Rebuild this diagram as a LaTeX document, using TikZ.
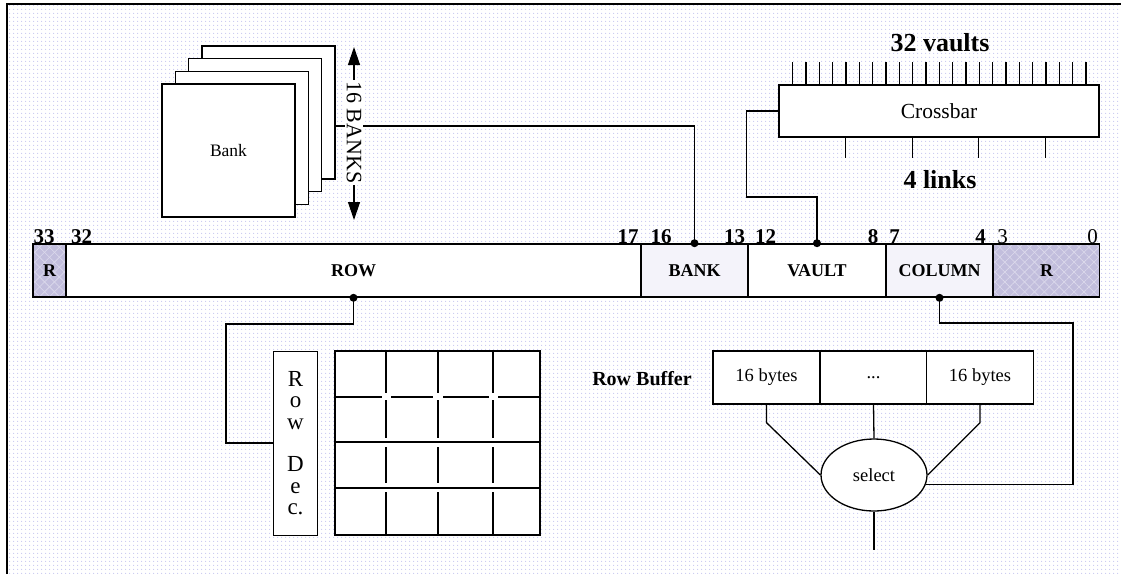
\documentclass[tikz,border=0pt]{standalone}
\usepackage{fontspec}
\setmainfont{Liberation Serif}
\usetikzlibrary{arrows.meta,shapes.geometric,patterns.meta,calc}
\definecolor{rcol}{RGB}{194,190,221}
\definecolor{lcol}{RGB}{244,243,250}
\definecolor{dotcol}{RGB}{200,200,240}
\pgfdeclarepattern{name=bgdots,type=uncolored,bottom left={\pgfpoint{0pt}{0pt}},top right={\pgfpoint{4pt}{4pt}},tile size={\pgfpoint{4pt}{4pt}},code={\pgfpathcircle{\pgfpoint{2pt}{2pt}}{0.75pt}\pgfusepath{fill}}}
\tikzset{
  ln/.style={line width=1.3pt},
  field/.style={draw, line width=1.6pt, minimum height=53pt, inner sep=0pt, font=\fontsize{18}{20}\selectfont\bfseries},
  rfield/.style={field, preaction={fill=rcol},
     preaction={pattern={Lines[angle=45,distance=7pt,line width=0.6pt]}, pattern color=white!45!rcol},
     preaction={pattern={Lines[angle=-45,distance=7pt,line width=0.6pt]}, pattern color=white!45!rcol}},
  bitnum/.style={font=\fontsize{21}{21}\selectfont\bfseries, inner sep=0pt, anchor=base},
  bitnumr/.style={font=\fontsize{21}{21}\selectfont, inner sep=0pt, anchor=base},
  banksq/.style={draw, fill=white, line width=1.3pt, minimum width=133pt, minimum height=133pt, inner sep=0pt, font=\fontsize{17.5}{20}\selectfont},
  cell/.style={draw, fill=white, line width=1.3pt, minimum width=107pt, minimum height=53pt, inner sep=0pt, font=\fontsize{18.5}{20}\selectfont},
  bigbold/.style={font=\fontsize{26}{28}\selectfont\bfseries, inner sep=0pt},
  dotend/.style={fill=black},
}
\begin{document}
\begin{tikzpicture}[x=1pt,y=-1pt]
\useasboundingbox (0,0) rectangle (1121,574);
% background
\fill[pattern=bgdots, pattern color=dotcol] (7,4) rectangle (1121,574);
\draw[ln] (7,574) -- (7,4) -- (1121,4);

% bank stack
\node[banksq] (bank4) at (268.5,112.5) {};
\node[banksq] (bank3) at (255.2,125.2) {};
\node[banksq] (bank2) at (241.8,137.8) {};
\node[banksq] (bank1) at (228.5,150.5) {Bank};

% register fields
\node[rfield, minimum width=33pt] (fr1) at (49.5,270.5) {R};
\node[field, fill=white, minimum width=575pt] (frow) at (353.5,270.5) {ROW};
\node[field, fill=lcol, minimum width=107pt] (fbank) at (694.5,270.5) {BANK};
\node[field, fill=white, minimum width=138pt] (fvault) at (817,270.5) {VAULT};
\node[field, fill=lcol, minimum width=107pt] (fcol) at (939.5,270.5) {COLUMN};
\node[rfield, minimum width=106pt] (fr2) at (1046.5,270.5) {R};

% bit numbers
\node[bitnum] (b33) at (44,243) {33};
\node[bitnum] (b32) at (81.5,243) {32};
\node[bitnum] (b17) at (628,243) {17};
\node[bitnum] (b16) at (661,243) {16};
\node[bitnum] (b13) at (734.5,243) {13};
\node[bitnum] (b12) at (765.5,243) {12};
\node[bitnum] (b8) at (873,243) {8};
\node[bitnum] (b7) at (894.5,243) {7};
\node[bitnum] (b4) at (980.5,243) {4};
\node[bitnumr] (b3) at (1002.5,243) {3};
\node[bitnumr] (b0) at (1092.5,243) {0};

% bank connector
\draw[ln] (bank4.east) ++(0,13.5) -| (fbank.north);
\fill[dotend] (fbank.north) circle (4pt);

% 16 banks arrow
\coordinate (atop) at (354,47);
\coordinate (abot) at (354,220);
\draw[line width=1.3pt, {Triangle[length=18pt,width=12pt]}-{Triangle[length=18pt,width=12pt]}] (atop) -- (abot);
\node[fill=white, inner sep=1.5pt, rotate=-90, font=\fontsize{22}{22}\selectfont] (nbanks) at (354,132.5) {16 BANKS};

% crossbar
\node[draw, fill=white, line width=1.3pt, minimum width=320pt, minimum height=52pt, inner sep=0pt, font=\fontsize{21.5}{22}\selectfont] (xbar) at (939,111) {Crossbar};
\foreach \i in {0,...,22}
  \draw[ln] ($(xbar.north west)+({14.3+13.33*\i},0)$) -- ++(0,-22);
\foreach \dx in {67,134,200,267}
  \draw[ln] ($(xbar.south west)+(\dx,0)$) -- ++(0,20);
\node[bigbold] (nvaults) at (940,43) {32 vaults};
\node[bigbold] (nlinks) at (940,180) {4 links};
\draw[ln] (xbar.west) -- ++(-32,0) |- (fvault.north |- 0,197) -- (fvault.north);
\fill[dotend] (fvault.north) circle (4pt);

% row decoder and array
\node[draw, fill=white, line width=1pt, minimum width=44pt, minimum height=184pt, inner sep=0pt, align=center, font=\fontsize{23}{21.5}\selectfont] (rowdec) at (295.5,443) {R\\o\\w\\[21pt]D\\e\\c.};
\draw[ln] (frow.south) |- (226,324) |- (rowdec.west);
\fill[dotend] (frow.south) circle (4pt);

\node[draw, fill=white, line width=1.7pt, minimum width=205pt, minimum height=184pt, inner sep=0pt] (arr) at (437.5,443) {};
\foreach \x in {386,438,493} {
  \draw[ln] (\x,351) -- (\x,393);
  \draw[ln] (\x,400) -- (\x,438);
  \draw[ln] (\x,447) -- (\x,483);
  \draw[ln] (\x,492) -- (\x,535);
}
\draw[ln] (335,397) -- (382,397);
\draw[ln] (391,397) -- (433,397);
\draw[ln] (443,397) -- (489,397);
\draw[ln] (498,397) -- (540,397);
\draw[ln] (arr.west |- 0,442) -- (arr.east |- 0,442);
\draw[ln] (arr.west |- 0,488) -- (arr.east |- 0,488);

% row buffer
\node[font=\fontsize{20}{22}\selectfont\bfseries, inner sep=0pt] (rblabel) at (642,379) {Row Buffer};
\node[cell] (c1) at (766.5,377.5) {16 bytes};
\node[cell] (c2) at (873.5,377.5) {...};
\node[cell] (c3) at (980,377.5) {16 bytes};
\node[draw, fill=white, ellipse, line width=1.3pt, minimum width=106pt, minimum height=72pt, inner sep=0pt, font=\fontsize{18.5}{20}\selectfont] (sel) at (874,475) {select};
\draw[ln] (c1.south) -- ++(0,18) -- (sel.west);
\draw[ln] (c2.south) -- (sel.north);
\draw[ln] (c3.south) -- ++(0,18) -- (sel.east);
\coordinate (selout) at (874,550);
\draw[ln] (sel.south) -- (selout);
\draw[ln] (fcol.south) |- (1073,323) |- (sel.-10);
\fill[dotend] (fcol.south) circle (4pt);
\end{tikzpicture}
\end{document}
